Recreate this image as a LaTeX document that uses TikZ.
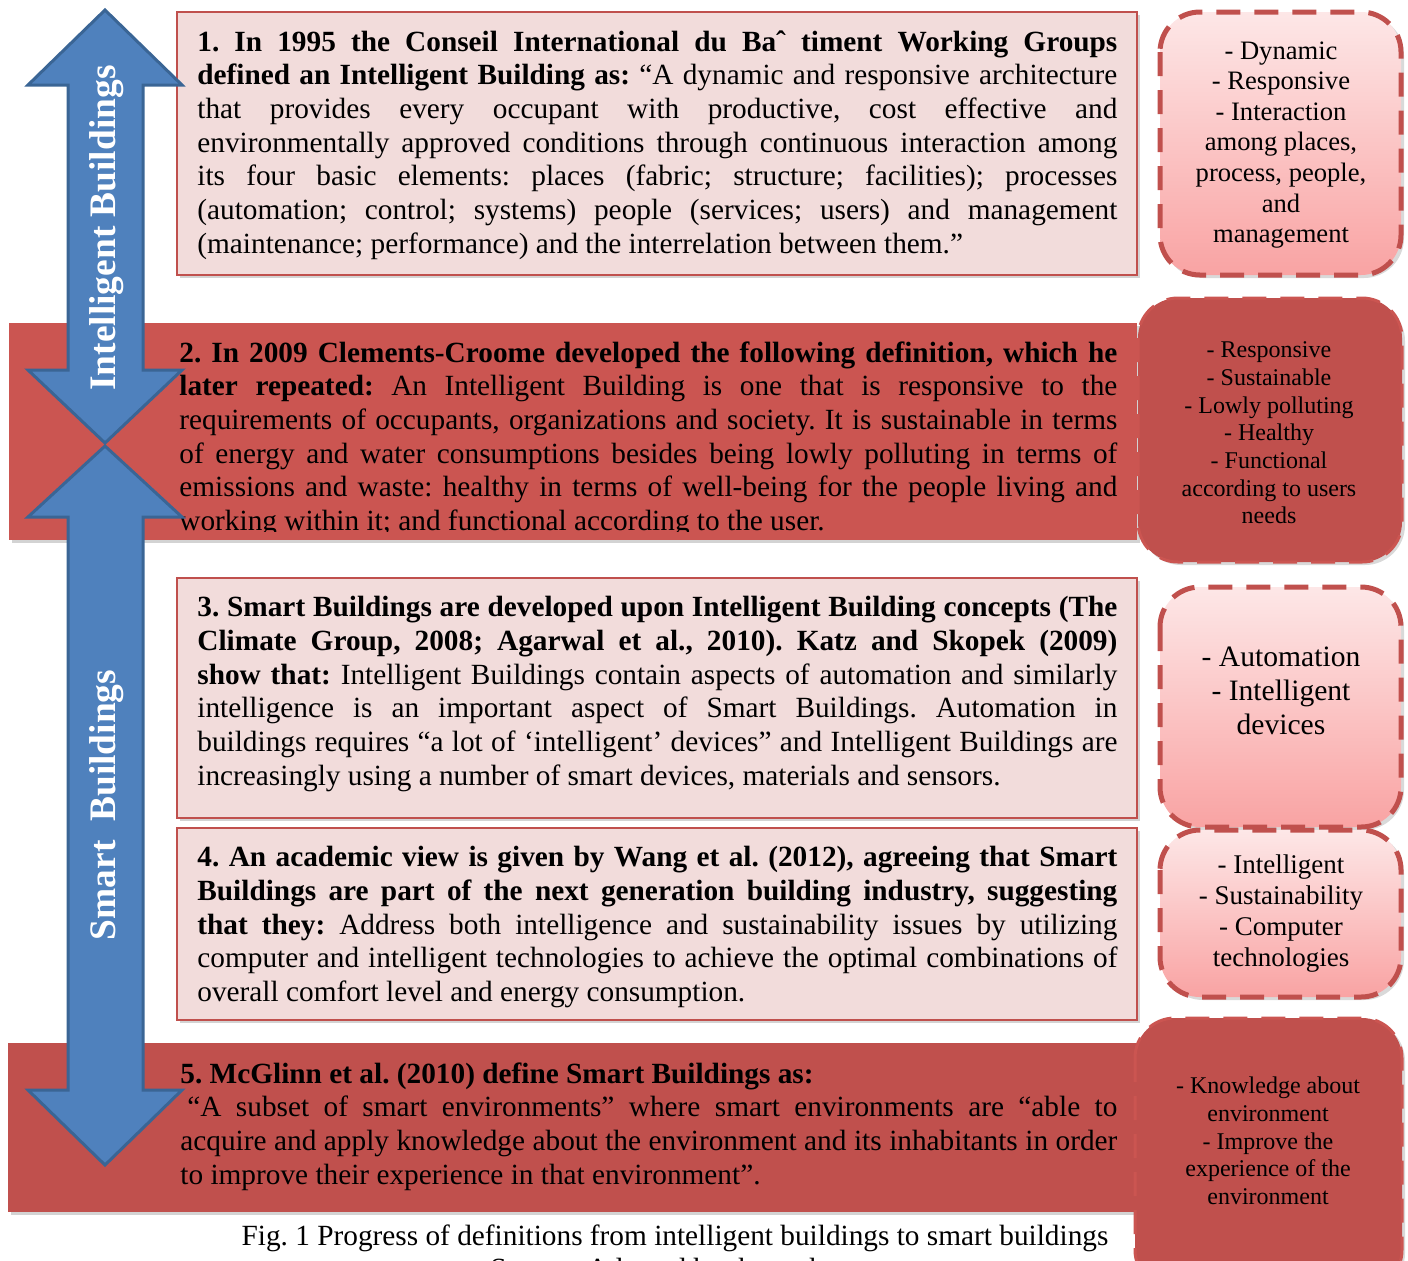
\documentclass[tikz,border=0pt]{standalone}
\usepackage{fontspec}
\setmainfont{Liberation Serif}
\usetikzlibrary{shadows}
\frenchspacing

\definecolor{boxpink}{HTML}{F2DCDB}
\definecolor{redline}{HTML}{C0504D}
\definecolor{bandred}{HTML}{C0504D}
\definecolor{bandlight}{HTML}{CB5551}
\definecolor{notetop}{HTML}{FDE7E7}
\definecolor{notebot}{HTML}{F9A3A3}
\definecolor{arrowblue}{HTML}{4F81BD}
\definecolor{arrowedge}{HTML}{3A6595}

\begin{document}
\begin{tikzpicture}[x=0.5pt,y=-0.5pt]
\tikzstyle{pinkbox} = [fill=boxpink,draw=redline,line width=1pt,drop shadow={shadow xshift=1.5pt,shadow yshift=-1.5pt,opacity=.35}]
\tikzstyle{redband} = [fill=bandred,drop shadow={shadow xshift=1.5pt,shadow yshift=-1.5pt,opacity=.35}]
\tikzstyle{note} = [rounded corners=20pt,draw=redline,line width=2.5pt,dash pattern=on 12pt off 7pt,top color=notetop,bottom color=notebot,drop shadow={shadow xshift=1.5pt,shadow yshift=-1.5pt,opacity=.3}]
\tikzstyle{darknote} = [rounded corners=20pt,fill=bandred,draw=bandlight,line width=1.5pt,dash pattern=on 12pt off 7pt,drop shadow={shadow xshift=1.5pt,shadow yshift=-1.5pt,opacity=.3}]
\tikzstyle{body} = [inner sep=0pt,anchor=north west,align=justify,font=\fontsize{14.65}{16.85}\selectfont]
\tikzstyle{keys} = [inner sep=0pt,align=center]
\tikzstyle{bigarrow} = [fill=arrowblue,draw=arrowedge,line width=1.5pt,line join=miter]
\tikzstyle{arrowtext} = [rotate=90,text=white,font=\bfseries\fontsize{18.7}{20}\selectfont]

\useasboundingbox (0,0) rectangle (1408,1260);

% definition boxes
\path[pinkbox] (177,12) rectangle (1137,275);
\path[redband,fill=bandlight] (9,323) rectangle (1137,540);
\path[pinkbox] (177,578) rectangle (1137,818);
\path[pinkbox] (177,828) rectangle (1137,1020);
\path[redband] (8,1043) rectangle (1137,1212);

\node[body,text width=460pt] (def1) at (197,30) {\textbf{1. In 1995 the Conseil International du Baˆ timent Working Groups}\linebreak
\textbf{defined an Intelligent Building as:} “A dynamic and responsive architecture\linebreak
that provides every occupant with productive, cost effective and\linebreak
environmentally approved conditions through continuous interaction among\linebreak
its four basic elements: places (fabric; structure; facilities); processes\linebreak
(automation; control; systems) people (services; users) and management\linebreak
(maintenance; performance) and the interrelation between them.”};

\begin{scope}
\clip (9,323) rectangle (1137,531);
\node[body,text width=469pt] (def2) at (179,341) {\textbf{2. In 2009 Clements-Croome developed the following definition, which he}\linebreak
\textbf{later repeated:} An Intelligent Building is one that is responsive to the\linebreak
requirements of occupants, organizations and society. It is sustainable in terms\linebreak
of energy and water consumptions besides being lowly polluting in terms of\linebreak
emissions and waste: healthy in terms of well-being for the people living and\linebreak
working within it; and functional according to the user.};
\end{scope}

\node[body,text width=460pt] (def3) at (197,596) {\textbf{3. Smart Buildings are developed upon Intelligent Building concepts (The}\linebreak
\textbf{Climate Group, 2008; Agarwal et al., 2010). Katz and Skopek (2009)}\linebreak
\textbf{show that:} Intelligent Buildings contain aspects of automation and similarly\linebreak
intelligence is an important aspect of Smart Buildings. Automation in\linebreak
buildings requires “a lot of ‘intelligent’ devices” and Intelligent Buildings are\linebreak
increasingly using a number of smart devices, materials and sensors.};

\node[body,text width=460pt] (def4) at (197,846) {\textbf{4. An academic view is given by Wang et al. (2012), agreeing that Smart}\linebreak
\textbf{Buildings are part of the next generation building industry, suggesting}\linebreak
\textbf{that they:} Address both intelligence and sustainability issues by utilizing\linebreak
computer and intelligent technologies to achieve the optimal combinations of\linebreak
overall comfort level and energy consumption.};

\node[body,text width=468.5pt] (def5) at (180,1062) {\textbf{5. McGlinn et al. (2010) define Smart Buildings as:}\hfill\break
\hspace*{3.5pt}“A subset of smart environments” where smart environments are “able to\linebreak
acquire and apply knowledge about the environment and its inhabitants in order\linebreak
to improve their experience in that environment”.};

% arrows
\draw[bigarrow] (105,10) -- (182,85) -- (143,85) -- (143,370) -- (182,370) -- (105,443)
  -- (28,370) -- (68,370) -- (68,85) -- (28,85) -- cycle;
\draw[bigarrow] (105,446) -- (182,517) -- (143,517) -- (143,1090) -- (182,1090) -- (105,1165)
  -- (28,1090) -- (68,1090) -- (68,517) -- (28,517) -- cycle;
\node[arrowtext] (ib) at (107,228) {Intelligent Buildings};
\node[arrowtext] (sb) at (107,805) {Smart\ \ Buildings};

% key words
\path[note] (1160,12) rectangle (1401,275);
\path[darknote] (1138,298) rectangle (1402,562);
\path[note] (1160,587) rectangle (1401,827);
\path[note] (1160,830) rectangle (1401,997);
\path[darknote] (1135,1018) rectangle (1402,1290);

\node[keys,font=\fontsize{13.3}{15.3}\selectfont] (key1) at (1281,145) {- Dynamic\\- Responsive\\- Interaction\\among places,\\process, people,\\and\\management};
\node[keys,font=\fontsize{12}{13.85}\selectfont] (key2) at (1269,433) {- Responsive\\- Sustainable\\- Lowly polluting\\- Healthy\\- Functional\\according to users\\needs};
\node[keys,font=\fontsize{14.8}{17}\selectfont] (key3) at (1281,691) {- Automation\\- Intelligent\\devices};
\node[keys,font=\fontsize{13.5}{15.5}\selectfont] (key4) at (1281,914) {- Intelligent\\- Sustainability\\- Computer\\technologies};
\node[keys,font=\fontsize{12}{13.85}\selectfont] (key5) at (1268,1141) {- Knowledge about\\environment\\- Improve the\\experience of the\\environment};

% caption
\node[keys,anchor=north,font=\fontsize{14.65}{16.85}\selectfont] (cap) at (675,1224) {Fig. 1 Progress of definitions from intelligent buildings to smart buildings\\Source: Adapted by the authors};
\end{tikzpicture}
\end{document}
